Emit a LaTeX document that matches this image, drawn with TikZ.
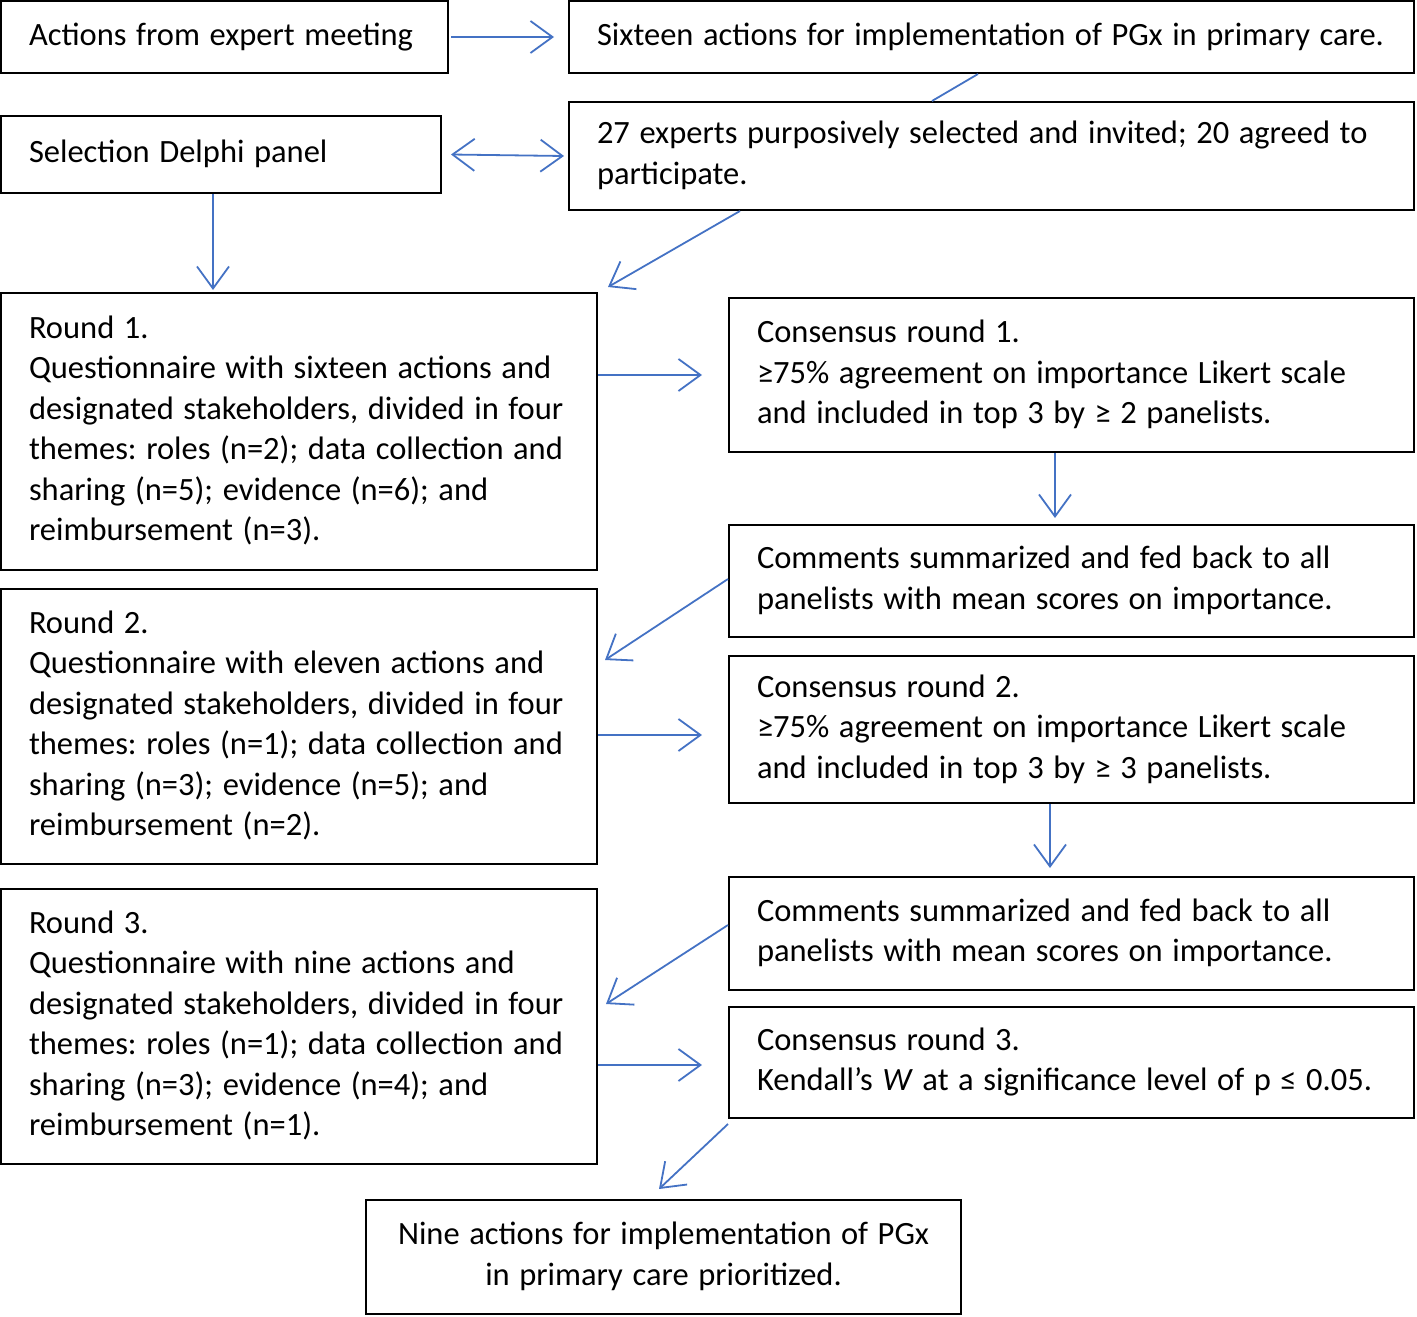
\documentclass[tikz,border=0pt]{standalone}
\usepackage{fontspec}
\setmainfont{Carlito}
\usetikzlibrary{arrows.meta}
\definecolor{arrowblue}{HTML}{4472C4}
\newcommand\boxfont{\fontsize{32.5}{40.5}\selectfont\frenchspacing}
\newcommand\lns[1]{\spaceskip=0.295em\relax\begin{tabular}{@{}l@{}}#1\end{tabular}}
\newcommand\clns[1]{\spaceskip=0.295em\relax\begin{tabular}{@{}c@{}}#1\end{tabular}}
\begin{document}
\begin{tikzpicture}[x=1pt,y=-1pt,
 box/.style={draw=black, line width=2pt, rectangle, inner xsep=28pt, inner ysep=0pt, align=left, font=\boxfont},
 arr/.style={draw=arrowblue, line width=1.8pt, -{Straight Barb[length=22pt,width=32pt,line width=1.8pt]}},
 darr/.style={draw=arrowblue, line width=1.8pt, {Straight Barb[length=22pt,width=32pt,line width=1.8pt]}-{Straight Barb[length=22pt,width=32pt,line width=1.8pt]}},
 plain/.style={draw=arrowblue, line width=1.8pt}
]
\useasboundingbox (0,0) rectangle (1417,1317);
\node[box, minimum width=447pt, minimum height=72pt, text width=391pt] (a) at (224.5,37) {\lns{Actions from expert meeting}};
\node[box, minimum width=845pt, minimum height=72pt, text width=789pt] (b) at (991.5,37) {\lns{Sixteen actions for implementation of PGx in primary care.}};
\node[box, minimum width=440pt, minimum height=77pt, text width=384pt] (c) at (221,154.5) {\lns{Selection Delphi panel}};
\node[box, minimum width=845pt, minimum height=108pt, text width=789pt] (d) at (991.5,156) {\lns{27 experts purposively selected and invited; 20 agreed to\\participate.}};
\node[box, minimum width=596pt, minimum height=277pt, text width=540pt] (e) at (299,431.5) {\lns{Round 1.\\Questionnaire with sixteen actions and\\designated stakeholders, divided in four\\themes: roles (n=2); data collection and\\sharing (n=5); evidence (n=6); and\\reimbursement (n=3).}};
\node[box, minimum width=685pt, minimum height=154pt, text width=629pt] (f) at (1071.5,375) {\lns{Consensus round 1.\\≥75\% agreement on importance Likert scale\\and included in top 3 by ≥ 2 panelists.}};
\node[box, minimum width=685pt, minimum height=112pt, text width=629pt] (g) at (1071.5,581) {\lns{Comments summarized and fed back to all\\panelists with mean scores on importance.}};
\node[box, minimum width=596pt, minimum height=275pt, text width=540pt] (h) at (299,726.5) {\lns{Round 2.\\Questionnaire with eleven actions and\\designated stakeholders, divided in four\\themes: roles (n=1); data collection and\\sharing (n=3); evidence (n=5); and\\reimbursement (n=2).}};
\node[box, minimum width=685pt, minimum height=147pt, text width=629pt] (i) at (1071.5,729.5) {\lns{Consensus round 2.\\≥75\% agreement on importance Likert scale\\and included in top 3 by ≥ 3 panelists.}};
\node[box, minimum width=685pt, minimum height=113pt, text width=629pt] (j) at (1071.5,933.5) {\lns{Comments summarized and fed back to all\\panelists with mean scores on importance.}};
\node[box, minimum width=596pt, minimum height=275pt, text width=540pt] (k) at (299,1026.5) {\lns{Round 3.\\Questionnaire with nine actions and\\designated stakeholders, divided in four\\themes: roles (n=1); data collection and\\sharing (n=3); evidence (n=4); and\\reimbursement (n=1).}};
\node[box, minimum width=685pt, minimum height=111pt, text width=629pt] (l) at (1071.5,1062.5) {\lns{Consensus round 3.\\Kendall’s \textit{W} at a significance level of p ≤ 0.05.}};
\node[box, align=center, minimum width=595pt, minimum height=114pt, text width=539pt] (m) at (663.5,1257) {\clns{Nine actions for implementation of PGx\\in primary care prioritized.}};

\draw[arr] ([xshift=2pt]a.east) -- ([xshift=-14pt]b.west);
\draw[darr] ([xshift=9pt]c.east) -- ([xshift=-4pt]d.west);
\draw[plain] ([xshift=-13.5pt]b.south) -- ([xshift=-59.5pt]d.north);
\draw[arr] ([xshift=-8pt]c.south) -- ([xshift=-86pt,yshift=2pt]e.north);
\draw[arr] ([xshift=-251.5pt]d.south) -- ([xshift=10pt,yshift=5pt]e.north east);
\draw[arr] (e.east |- f.west) -- ([xshift=-26pt]f.west);
\draw[arr] ([xshift=-16.5pt]f.south) -- ([xshift=-16.5pt,yshift=6pt]g.north);
\draw[arr] ([yshift=2pt]g.west) -- ([xshift=7pt,yshift=-72pt]h.north east);
\draw[arr] ([yshift=-8.5pt]h.east) -- ([xshift=-26pt,yshift=-5.5pt]i.west);
\draw[arr] ([xshift=-21.5pt]i.south) -- ([xshift=-21.5pt,yshift=8pt]j.north);
\draw[arr] ([yshift=8.5pt]j.west) -- ([xshift=8pt,yshift=-116pt]k.north east);
\draw[arr] ([yshift=-38.5pt]k.east) -- ([xshift=-26pt,yshift=-2.5pt]l.west);
\draw[arr] ([yshift=-5pt]l.south west) -- ([xshift=-4.5pt,yshift=10pt]m.north);
\end{tikzpicture}
\end{document}
